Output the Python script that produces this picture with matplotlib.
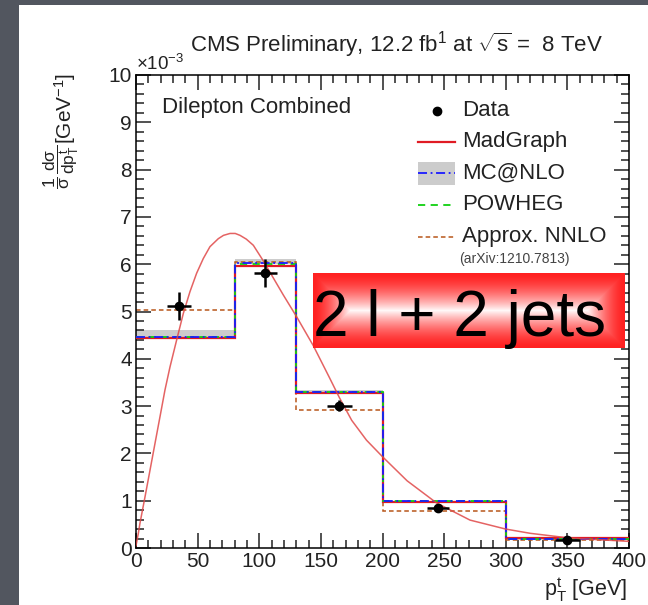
import numpy as np
import matplotlib
matplotlib.use("Agg")
import matplotlib.pyplot as plt
from matplotlib.patches import Rectangle
from matplotlib.lines import Line2D

plt.rcParams['font.family'] = ['Liberation Sans', 'DejaVu Sans']
plt.rcParams['mathtext.fontset'] = 'custom'
plt.rcParams['mathtext.rm'] = 'Liberation Sans'
plt.rcParams['mathtext.it'] = 'Liberation Sans'
plt.rcParams['mathtext.sf'] = 'Liberation Sans'

# normalised top-quark pT, dilepton channel (units of 1e-3 / GeV)
bin_edges = [0, 80, 130, 200, 300, 400]
data_x = [35, 105, 165, 245, 350]
data_y = [5.12, 5.81, 3.01, 0.85, 0.16]
data_yerr = [0.29, 0.30, 0.12, 0.07, 0.06]
data_xerr = [10, 9, 10, 9, 10]

madgraph = [4.43, 5.96, 3.28, 0.98, 0.22]
mcatnlo = [4.47, 6.03, 3.30, 0.99, 0.19]
mcatnlo_lo = [4.44, 6.00, 3.28, 0.97, 0.17]
mcatnlo_hi = [4.61, 6.10, 3.33, 1.00, 0.21]
powheg = [4.46, 6.00, 3.29, 0.99, 0.19]
nnlo = [5.03, 6.05, 2.92, 0.79, 0.17]

# smooth MadGraph curve
curve_x = [0, 1.9, 3.2, 7.3, 11.4, 15.4, 19.5, 23.5, 27.6, 33, 38.4, 43.8, 49.2,
           54.6, 60, 66.8, 71, 76.3, 80.5, 84.4, 89.5, 95.2, 103.3, 111.4, 119.5,
           130.3, 143.8, 157, 165, 175, 187, 200, 220, 244, 271, 300, 320, 352, 393, 400]
curve_y = [0.05, 0.31, 0.52, 1.08, 1.65, 2.21, 2.78, 3.34, 3.83, 4.40, 4.96, 5.42, 5.81,
           6.12, 6.37, 6.54, 6.61, 6.65, 6.65, 6.61, 6.53, 6.40, 6.07, 5.71, 5.35,
           4.89, 4.28, 3.60, 3.18, 2.70, 2.28, 1.93, 1.42, 0.95, 0.59, 0.40, 0.31, 0.21, 0.15, 0.14]

legend_labels = ['Data', 'MadGraph', 'MC@NLO', 'POWHEG', 'Approx. NNLO']

W, H = 648, 605
fig = plt.figure(figsize=(W / 100, H / 100), dpi=100, facecolor='#52565f')
# white slide panel
fig.patches.append(Rectangle((19 / W, 0), 1 - 19 / W, 1 - 5 / H, transform=fig.transFigure,
                             facecolor='white', edgecolor='none', zorder=-10))

ax = fig.add_axes([136 / W, 1 - 548 / H, 493 / W, 473 / H])
ax.set_facecolor('none')

ax.fill_between(bin_edges, mcatnlo_lo + [mcatnlo_lo[-1]], mcatnlo_hi + [mcatnlo_hi[-1]],
                step='post', color='#cccccc', lw=0, zorder=1)
ax.stairs(nnlo, bin_edges, baseline=None, color='#b8561a', ls=(0, (3, 2)), lw=1.1, zorder=2)
ax.stairs(madgraph, bin_edges, baseline=None, color='#e01b24', lw=1.6, zorder=3)
ax.stairs(powheg, bin_edges, baseline=None, color='#10d010', ls=(0, (4, 3)), lw=1.3, zorder=4)
ax.stairs(mcatnlo, bin_edges, baseline=None, color='#1a1aff', ls=(0, (5, 2, 1, 2)), lw=1.3, zorder=5)
ax.plot(curve_x, curve_y, color='#e04848', lw=1.1, alpha=0.85, zorder=6)
ax.errorbar(data_x, data_y, yerr=data_yerr, xerr=data_xerr, fmt='o', color='black',
            ms=6, lw=1.8, capsize=0, zorder=7)

ax.set_xlim(0, 400)
ax.set_ylim(0, 10)
ax.set_xticks(np.arange(0, 401, 50))
ax.set_xticks(np.arange(0, 401, 10), minor=True)
ax.set_yticks(np.arange(0, 11, 1))
ax.set_yticks(np.arange(0, 10.01, 0.2), minor=True)
ax.tick_params(which='both', direction='in', top=True, right=True, width=1.1,
               labelsize=15, colors='#222222')
ax.tick_params(which='major', length=10.5, pad=3)
ax.tick_params(which='minor', length=6)
for s in ax.spines.values():
    s.set_linewidth(1.1)
ax.text(0.0, 1.003, r'$\times$10$^{-3}$', transform=ax.transAxes, ha='left', va='bottom',
        fontsize=13.5, color='#222222')

# titles and axis labels
fig.text(190 / W, 1 - 45 / H, r'CMS Preliminary, 12.2 fb$^{1}$ at $\sqrt{s}$ =  8 TeV',
         ha='left', va='center', fontsize=16, color='#222222')
fig.text(65 / W, 1 - 73 / H, r'[GeV$^{-1}$]',
         rotation=90, ha='center', va='top', fontsize=15, color='#222222')
fig.text(61 / W, 1 - 144 / H, r'$\dfrac{1}{\sigma}\,\dfrac{d\sigma}{dp^{t}_{T}}$',
         rotation=90, ha='center', va='top', fontsize=12.5, color='#222222')
fig.text(627 / W, 1 - 590 / H, r'p$^{t}_{T}$ [GeV]', ha='right', va='center',
         fontsize=15.5, color='#222222')
fig.text(162 / W, 1 - 108 / H, 'Dilepton Combined', ha='left', va='center',
         fontsize=16, color='#222222')

# legend drawn by hand, ROOT style
rows_y = [111, 142, 173, 205, 237]
x0, x1, xt = 418 / W, 455 / W, 462 / W
fig.add_artist(Line2D([(x0 + x1) / 2], [1 - rows_y[0] / H], marker='o', ms=6, color='black',
                      ls='none', transform=fig.transFigure))
fig.add_artist(Line2D([x0, x1], [1 - rows_y[1] / H] * 2, color='#e01b24', lw=1.6,
                      transform=fig.transFigure))
fig.patches.append(Rectangle((x0, 1 - 185 / H), x1 - x0, 23 / H, transform=fig.transFigure,
                             facecolor='#cccccc', edgecolor='none'))
fig.add_artist(Line2D([x0, x1], [1 - rows_y[2] / H] * 2, color='#1a1aff', lw=1.3,
                      ls=(0, (5, 2, 1, 2)), transform=fig.transFigure))
fig.add_artist(Line2D([x0, x1], [1 - rows_y[3] / H] * 2, color='#10d010', lw=1.3,
                      ls=(0, (4, 3)), transform=fig.transFigure))
fig.add_artist(Line2D([x0, x1], [1 - rows_y[4] / H] * 2, color='#b8561a', lw=1.1,
                      ls=(0, (3, 2)), transform=fig.transFigure))
for lab, ry in zip(legend_labels, rows_y):
    fig.text(xt, 1 - ry / H, lab, ha='left', va='center', fontsize=16, color='#222222')
fig.text(459 / W, 1 - 259 / H, '(arXiv:1210.7813)', ha='left', va='center', fontsize=10,
         color='#444444')

# red glowing box with channel name
bx0, by0, bx1, by1 = 313, 273, 625, 348
bw, bh = bx1 - bx0, by1 - by0
box = fig.add_axes([bx0 / W, 1 - by1 / H, bw / W, bh / H])
gx, gy = np.meshgrid(np.arange(bw) + 0.5, np.arange(bh) + 0.5)
dist = np.minimum(np.minimum(gx, bw - gx), np.minimum(gy, bh - gy)) / (bh / 2)
fade = np.clip(dist, 0, 1) ** 1.6 * 0.97
red = np.array([1.0, 0.13, 0.13])
img = red[None, None, :] + (1 - red[None, None, :]) * fade[:, :, None]
box.imshow(img, aspect='auto', extent=[0, 1, 0, 1], interpolation='bilinear')
box.set_xlim(0, 1)
box.set_ylim(0, 1)
box.axis('off')
box.text(0.47, 0.165, '2 l + 2 jets', ha='center', va='baseline', fontsize=46, color='black')

fig.savefig('out.png', dpi=100, facecolor=fig.get_facecolor())
